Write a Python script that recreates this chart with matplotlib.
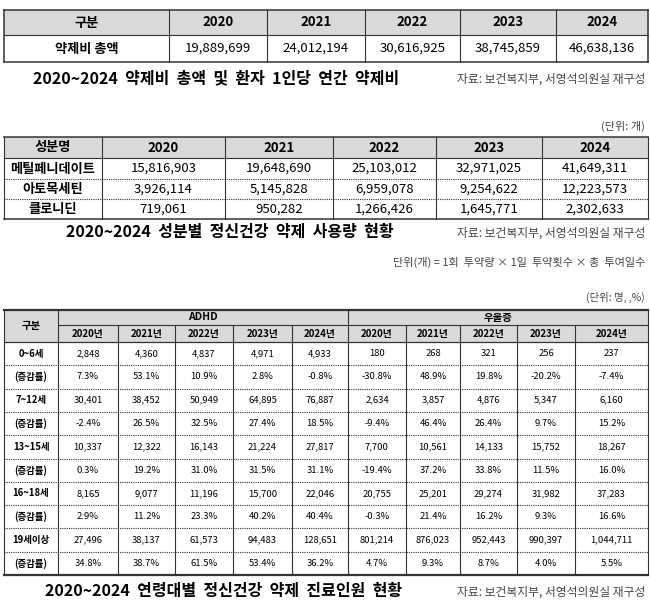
import matplotlib; matplotlib.use("Agg")
import matplotlib.pyplot as plt

plt.rcParams["font.family"] = ["Noto Sans CJK KR", "DejaVu Sans"]
GRAY = "#d9d9d9"; LINE = "#333333"

# ---------- data ----------
years = ["2020", "2021", "2022", "2023", "2024"]
cost_total = ["19,889,699", "24,012,194", "30,616,925", "38,745,859", "46,638,136"]

drugs = ["메틸페니데이트", "아토목세틴", "클로니딘"]
drug_use = [["15,816,903", "19,648,690", "25,103,012", "32,971,025", "41,649,311"],
            ["3,926,114", "5,145,828", "6,959,078", "9,254,622", "12,223,573"],
            ["719,061", "950,282", "1,266,426", "1,645,771", "2,302,633"]]

ages = ["0~6세", "(증감률)", "7~12세", "(증감률)", "13~15세", "(증감률)",
        "16~18세", "(증감률)", "19세이상", "(증감률)"]
adhd = [["2,848", "4,360", "4,837", "4,971", "4,933"],
        ["7.3%", "53.1%", "10.9%", "2.8%", "-0.8%"],
        ["30,401", "38,452", "50,949", "64,895", "76,887"],
        ["-2.4%", "26.5%", "32.5%", "27.4%", "18.5%"],
        ["10,337", "12,322", "16,143", "21,224", "27,817"],
        ["0.3%", "19.2%", "31.0%", "31.5%", "31.1%"],
        ["8,165", "9,077", "11,196", "15,700", "22,046"],
        ["2.9%", "11.2%", "23.3%", "40.2%", "40.4%"],
        ["27,496", "38,137", "61,573", "94,483", "128,651"],
        ["34.8%", "38.7%", "61.5%", "53.4%", "36.2%"]]
depr = [["180", "268", "321", "256", "237"],
        ["-30.8%", "48.9%", "19.8%", "-20.2%", "-7.4%"],
        ["2,634", "3,857", "4,876", "5,347", "6,160"],
        ["-9.4%", "46.4%", "26.4%", "9.7%", "15.2%"],
        ["7,700", "10,561", "14,133", "15,752", "18,267"],
        ["-19.4%", "37.2%", "33.8%", "11.5%", "16.0%"],
        ["20,755", "25,201", "29,274", "31,982", "37,283"],
        ["-0.3%", "21.4%", "16.2%", "9.3%", "16.6%"],
        ["801,214", "876,023", "952,443", "990,397", "1,044,711"],
        ["4.7%", "9.3%", "8.7%", "4.0%", "5.5%"]]
src = "자료: 보건복지부, 서영석의원실 재구성"

fig = plt.figure(figsize=(6.5, 6.1), dpi=100)
ax = fig.add_axes([0, 0, 1, 1]); ax.set_xlim(0, 650); ax.set_ylim(610, 0); ax.axis("off")

def cell(x0, x1, y0, y1, txt, fill=None, size=9, bold=False):
    if fill:
        ax.fill_between([x0, x1], y0, y1, color=fill, lw=0, zorder=0)
    ax.text((x0 + x1) / 2, (y0 + y1) / 2, txt, ha="center", va="center",
            fontsize=size, fontweight="bold" if bold else "normal")

def hline(x0, x1, y, ls="-", lw=0.9):
    ax.plot([x0, x1], [y, y], color=LINE, lw=lw, ls=ls)

def vline(x, y0, y1, lw=0.9):
    ax.plot([x, x], [y0, y1], color=LINE, lw=lw)

def caption(x, y, title):
    # wider word spacing as in the source document
    ax.text(x, y, title.replace(" ", "  "), ha="left", va="center", fontsize=11.5, fontweight="bold")
    ax.text(645, y + 1, src, ha="right", va="center", fontsize=8.5, color="#444444")

# ---------- table 1 ----------
c1 = [4, 169, 267, 365, 460, 556, 648]
r1 = [10, 35, 62]
cell(c1[0], c1[1], r1[0], r1[1], "구분", GRAY, 9.5, True)
cell(c1[0], c1[1], r1[1], r1[2], "약제비 총액", None, 9.5, True)
for i, (yr, v) in enumerate(zip(years, cost_total)):
    cell(c1[i+1], c1[i+2], r1[0], r1[1], yr, GRAY, 9.5, True)
    cell(c1[i+1], c1[i+2], r1[1], r1[2], v, None, 9.5)
for y in r1: hline(c1[0], c1[-1], y, lw=1.1 if y != 35 else 0.8)
for x in c1: vline(x, r1[0], r1[-1], lw=0.8 if x not in (4, 648) else 1.1)
caption(33, 78, "2020~2024 약제비 총액 및 환자 1인당 연간 약제비")

# ---------- table 2 ----------
ax.text(645, 126, "(단위: 개)", ha="right", va="center", fontsize=8, color="#444444")
c2 = [4, 102, 225, 333, 436, 542, 648]
r2 = [137, 158, 179, 199, 219]
cell(c2[0], c2[1], r2[0], r2[1], "성분명", GRAY, 9.5, True)
for i, yr in enumerate(years):
    cell(c2[i+1], c2[i+2], r2[0], r2[1], yr, GRAY, 9.5, True)
for j, (d, vals) in enumerate(zip(drugs, drug_use)):
    cell(c2[0], c2[1], r2[j+1], r2[j+2], d, None, 9.5, True)
    for i, v in enumerate(vals):
        cell(c2[i+1], c2[i+2], r2[j+1], r2[j+2], v, None, 9.5)
hline(c2[0], c2[-1], r2[0], lw=1.1); hline(c2[0], c2[-1], r2[1], lw=0.8)
hline(c2[0], c2[-1], r2[2], ls=(0, (1, 1)), lw=0.8); hline(c2[0], c2[-1], r2[3], ls=(0, (1, 1)), lw=0.8)
hline(c2[0], c2[-1], r2[4], lw=1.1)
for x in c2: vline(x, r2[0], r2[-1], lw=0.8)
caption(66, 232, "2020~2024 성분별 정신건강 약제 사용량 현황")
ax.text(645, 262, "단위(개) = 1회  투약량 × 1일  투약횟수 × 총  투여일수",
        ha="right", va="center", fontsize=8, color="#444444")

# ---------- table 3 ----------
ax.text(645, 297, "(단위: 명, ,%)", ha="right", va="center", fontsize=7.5, color="#444444")
c3 = [4, 58, 118, 175, 233, 292, 348, 406, 460, 517, 575, 648]
top, h1, h2 = 310, 325, 342
rh = 23.3
r3 = [h2 + rh * k for k in range(len(ages) + 1)]
ax.fill_between([c3[0], c3[-1]], top, h2, color=GRAY, lw=0, zorder=0)
cell(c3[0], c3[1], top, h2, "구분", None, 7.5, True)
cell(c3[1], c3[6], top, h1, "ADHD", None, 7.5, True)
cell(c3[6], c3[11], top, h1, "우울증", None, 7.5, True)
for i, yr in enumerate(years * 2):
    cell(c3[i+1], c3[i+2], h1, h2, yr + "년", None, 7, True)
for j, lab in enumerate(ages):
    cell(c3[0], c3[1], r3[j], r3[j+1], lab, None, 6.8, True)
    for i, v in enumerate(adhd[j] + depr[j]):
        cell(c3[i+1], c3[i+2], r3[j], r3[j+1], v, None, 6.8)
hline(c3[0], c3[-1], top, lw=1.6); hline(c3[1], c3[-1], h1, lw=0.8); hline(c3[0], c3[-1], h2, lw=0.9)
for y in r3[1:-1]: hline(c3[0], c3[-1], y, ls=(0, (1, 1)), lw=0.8)
hline(c3[0], c3[-1], r3[-1], lw=1.6)
for k, x in enumerate(c3):
    vline(x, top if k in (0, 1, 6, 11) else h1, r3[-1], lw=0.8)
caption(45, 591, "2020~2024 연령대별 정신건강 약제 진료인원 현황")

fig.savefig("out.png", dpi=100)
